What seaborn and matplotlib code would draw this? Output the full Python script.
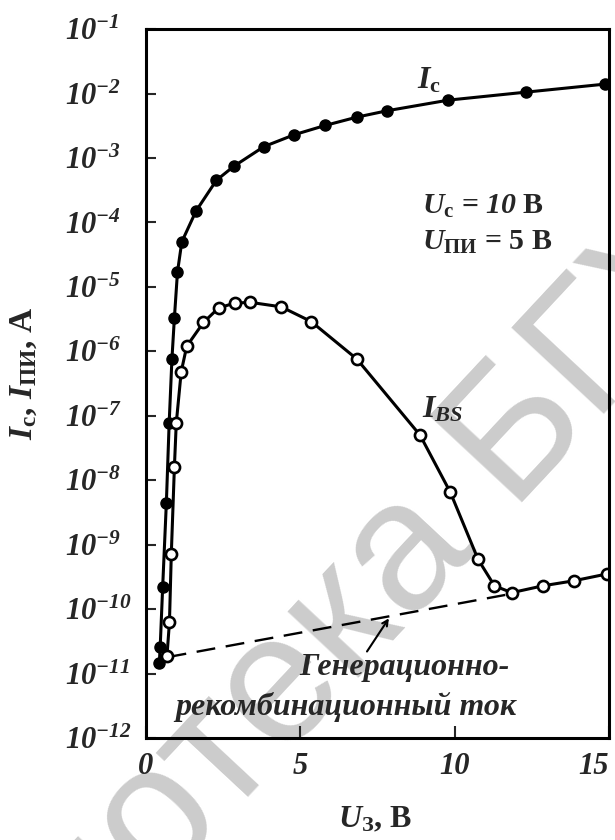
import seaborn as sns
from matplotlib import pyplot as plt
from matplotlib.ticker import NullLocator

# style first, fonts after (set_style resets font.family)
sns.set_style("white")
plt.rcParams['font.family'] = ['Liberation Serif', 'DejaVu Serif']
plt.rcParams['font.weight'] = 'bold'
plt.rcParams['axes.labelweight'] = 'bold'
plt.rcParams['mathtext.fontset'] = 'custom'
plt.rcParams['mathtext.rm'] = 'Liberation Serif:bold:italic'
plt.rcParams['mathtext.it'] = 'Liberation Serif:bold:italic'
plt.rcParams['mathtext.bf'] = 'Liberation Serif:bold'

# I_c (filled circles)
u_ic = [0.43, 0.46, 0.54, 0.66, 0.75, 0.84, 0.92, 1.02, 1.16, 1.62,
        2.28, 2.84, 3.82, 4.81, 5.81, 6.83, 7.81, 9.80, 12.31, 14.88]
i_c = [1.45e-11, 2.6e-11, 2.2e-10, 4.5e-9, 7.6e-8, 7.6e-7, 3.3e-6, 1.7e-5, 5.0e-5, 1.5e-4,
       4.5e-4, 7.4e-4, 1.5e-3, 2.3e-3, 3.2e-3, 4.3e-3, 5.4e-3, 7.9e-3, 1.05e-2, 1.4e-2]

# I_BS (open circles)
u_ibs = [0.68, 0.76, 0.82, 0.92, 0.98, 1.14, 1.32, 1.86, 2.35, 2.87, 3.38,
         4.38, 5.35, 6.83, 8.88, 9.86, 10.76, 11.29, 11.85, 12.86, 13.86, 14.92]
i_bs = [1.9e-11, 6.3e-11, 7.2e-10, 1.6e-8, 7.6e-8, 4.8e-7, 1.2e-6, 2.8e-6, 4.7e-6, 5.6e-6, 5.75e-6,
        4.9e-6, 2.9e-6, 7.6e-7, 5.0e-8, 6.5e-9, 5.9e-10, 2.3e-10, 1.8e-10, 2.3e-10, 2.75e-10, 3.5e-10]

# generation-recombination current (dashed)
u_gr = [0.70, 11.64]
i_gr = [1.8e-11, 1.66e-10]

y_ticks = [1e-12, 1e-11, 1e-10, 1e-9, 1e-8, 1e-7, 1e-6, 1e-5, 1e-4, 1e-3, 1e-2, 1e-1]
y_labels = [r'$10^{-%d}$' % p for p in range(12, 0, -1)]
x_ticks = [0, 5, 10, 15]
x_labels = ['0', '5', '10', '15']

fig = plt.figure(figsize=(6.15, 8.4), dpi=100)
ax = fig.add_axes([0.2374, 0.1214, 0.7528, 0.844])

sns.lineplot(x=u_gr, y=i_gr, ax=ax, color='black', lw=1.7, dashes=False,
             linestyle=(0, (8, 4.5)), estimator=None, sort=False)
sns.lineplot(x=u_ic, y=i_c, ax=ax, color='black', lw=2.2, marker='o', markersize=8,
             markerfacecolor='black', markeredgecolor='black', markeredgewidth=1,
             estimator=None, sort=False)
sns.lineplot(x=u_ibs, y=i_bs, ax=ax, color='black', lw=2.2, marker='o', markersize=8,
             markerfacecolor='white', markeredgecolor='black', markeredgewidth=1.9,
             estimator=None, sort=False)

ax.set_yscale('log')
ax.set_xlim(0, 15)
ax.set_ylim(1e-12, 1e-1)
ax.set_yticks(y_ticks, y_labels)
ax.yaxis.set_minor_locator(NullLocator())
ax.set_xticks(x_ticks, x_labels)
for t in ax.get_yticklabels():
    t.set_horizontalalignment('left')
    t.set_fontsize(22)
for t in ax.get_xticklabels():
    t.set_fontstyle('italic')
    t.set_fontsize(22)
# last x label sits left of its tick, inside the figure
ax.get_xticklabels()[-1].set_horizontalalignment('right')

ax.tick_params(axis='y', direction='in', length=7.5, width=1.5, pad=58, right=False, left=True)
ax.tick_params(axis='x', direction='in', length=8.6, width=1.5, pad=10, top=False, bottom=True)
for s in ax.spines.values():
    s.set_linewidth(2.2)
    s.set_color('black')

ax.set_xlabel(r'$U_{\mathbf{З}}$, В', fontsize=23)
ax.xaxis.set_label_coords(0.495, -0.095)
ax.set_ylabel(r'$I_{\mathbf{с}}$, $I_{\mathbf{ПИ}}$, А', fontsize=24)
ax.yaxis.set_label_coords(-0.232, 0.515)

# curve labels and conditions
ax.text(8.78, 10**-1.915, r'$I_{\mathbf{с}}$', fontsize=23, ha='left', va='baseline')
ax.text(8.94, 10**-7.02, r'$I_{BS}$', fontsize=23, ha='left', va='baseline')
ax.text(8.94, 10**-3.87, r'$U_{\mathbf{с}}$ = $10$ В', fontsize=21.5, ha='left', va='baseline')
ax.text(8.94, 10**-4.43, r'$U_{\mathbf{ПИ}}$ = 5 В', fontsize=21.5, ha='left', va='baseline')

ax.annotate('', xy=(7.87, 7.2e-11), xytext=(7.16, 2.2e-11),
            arrowprops=dict(arrowstyle='->', lw=1.5, color='black', shrinkA=0, shrinkB=0))
ax.text(8.38, 10**-10.91, 'Генерационно-', fontsize=23, style='italic', ha='center', va='center')
ax.text(6.48, 10**-11.52, 'рекомбинационный ток', fontsize=23, style='italic', ha='center', va='center')

# faint library watermark behind everything
ax.text(322 / 615, 1 - 648 / 840, 'Библиотека БГУИР', transform=fig.transFigure,
        rotation=47, ha='center', va='center', fontsize=132, color='#cccccc',
        family='Liberation Sans', fontweight='normal', zorder=0.5, clip_on=False)

fig.savefig('out.png', dpi=100)
